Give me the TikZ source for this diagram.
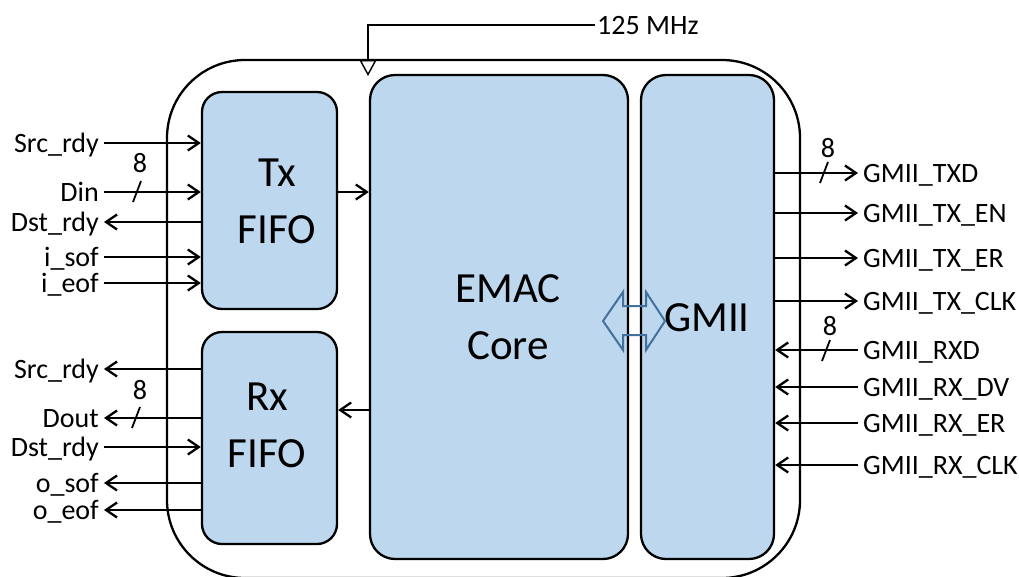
\documentclass[tikz,border=0pt]{standalone}
\usepackage{fontspec}
\setmainfont{Carlito}
\usetikzlibrary{arrows.meta}
\definecolor{boxblue}{RGB}{189,215,238}
\definecolor{arrblue}{RGB}{65,113,156}
\begin{document}
\begin{tikzpicture}[x=1pt,y=-1pt,
  blk/.style={draw=black, line width=2.3pt, fill=boxblue, inner sep=0pt},
  big/.style={font=\fontsize{43}{57}\selectfont, align=center, inner sep=0pt},
  sig/.style={font=\fontsize{28}{34}\selectfont, text height=18pt, text depth=0pt, inner xsep=5pt, inner ysep=0pt},
  wire/.style={line width=2.3pt},
  arr/.style={wire, -{Straight Barb[length=11pt,width=15pt]}},
  slash/.style={line width=1.8pt},
]
\useasboundingbox (0,0) rectangle (1019,576);

% outer block
\node[draw, line width=2.3pt, rounded corners=78pt, minimum width=633pt, minimum height=518pt, inner sep=0pt] (outer) at (483.5,319) {};

% inner blocks
\node[blk, rounded corners=20pt, minimum width=135pt, minimum height=217pt] (tx) at (269.5,200.5) {};
\node[blk, rounded corners=20pt, minimum width=135pt, minimum height=212pt] (rx) at (269.5,438) {};
\node[blk, rounded corners=25pt, minimum width=258pt, minimum height=484pt] (em) at (499,317) {};
\node[blk, rounded corners=25pt, minimum width=133pt, minimum height=484pt] (gm) at (707.5,317) {};

\node[big] (txt) at (277,201) {Tx\\FIFO};
\node[big] (rxt) at (267,425) {Rx\\FIFO};
\node[big] (emt) at (508,317.5) {EMAC\\Core};
\node[big] (gmt) at (707,318) {GMII};

% double arrow between EMAC and GMII
\draw[arrblue, line width=2pt, line join=miter] (603,321) -- (623,292) -- (623,306) -- (646,306) -- (646,292) -- (665,321) -- (646,350) -- (646,335) -- (623,335) -- (623,350) -- cycle;

% internal arrows
\draw[arr] ([yshift=8.5pt]tx.east) coordinate (a1) -- (a1 -| em.west);
\draw[arr] ([yshift=28pt]rx.east -| em.west) coordinate (a2) -- (a2 -| rx.east);

% clock
\node[sig, anchor=west, inner xsep=2pt] (clk) at (595,25) {125 MHz};
\coordinate (clkin) at (368,76);
\draw[line width=1.4pt, -{Triangle[open, length=16pt, width=17pt, line width=1.4pt]}] (clk.west) -| (clkin);

% Tx FIFO signals
\node[sig, anchor=east] (ts1) at (104,143) {Src\_rdy};
\node[sig, anchor=east] (ts2) at (104,192) {Din};
\node[sig, anchor=east] (ts3) at (104,222) {Dst\_rdy};
\node[sig, anchor=east] (ts4) at (104,257) {i\_sof};
\node[sig, anchor=east] (ts5) at (104,283) {i\_eof};
\draw[arr] (ts1.east) -- (ts1.east -| tx.west);
\draw[arr] (ts2.east) -- (ts2.east -| tx.west);
\draw[arr] (ts3.east -| tx.west) -- (ts3.east);
\draw[arr] (ts4.east) -- (ts4.east -| tx.west);
\draw[arr] (ts5.east) -- (ts5.east -| tx.west);
\node[sig, inner xsep=0pt] (tb) at (140,163) {8};
\draw[slash] (137,192) ++(-4,10) -- ++(8,-21);

% Rx FIFO signals
\node[sig, anchor=east] (rs1) at (104,369) {Src\_rdy};
\node[sig, anchor=east] (rs2) at (104,418) {Dout};
\node[sig, anchor=east] (rs3) at (104,447) {Dst\_rdy};
\node[sig, anchor=east] (rs4) at (104,483) {o\_sof};
\node[sig, anchor=east] (rs5) at (104,510) {o\_eof};
\draw[arr] (rs1.east -| rx.west) -- (rs1.east);
\draw[arr] (rs2.east -| rx.west) -- (rs2.east);
\draw[arr] (rs3.east) -- (rs3.east -| rx.west);
\draw[arr] (rs4.east -| rx.west) -- (rs4.east);
\draw[arr] (rs5.east -| rx.west) -- (rs5.east);
\node[sig, inner xsep=0pt] (rb) at (140,390) {8};
\draw[slash] (136,418) ++(-4,10) -- ++(8,-21);

% GMII signals
\node[sig, anchor=west] (g1) at (858,173) {GMII\_TXD};
\node[sig, anchor=west] (g2) at (858,213) {GMII\_TX\_EN};
\node[sig, anchor=west] (g3) at (858,258) {GMII\_TX\_ER};
\node[sig, anchor=west] (g4) at (858,301) {GMII\_TX\_CLK};
\node[sig, anchor=west] (g5) at (858,350) {GMII\_RXD};
\node[sig, anchor=west] (g6) at (858,387) {GMII\_RX\_DV};
\node[sig, anchor=west] (g7) at (858,423) {GMII\_RX\_ER};
\node[sig, anchor=west] (g8) at (858,465) {GMII\_RX\_CLK};
\draw[arr] (g1.west -| gm.east) -- (g1.west);
\draw[arr] (g2.west -| gm.east) -- (g2.west);
\draw[arr] (g3.west -| gm.east) -- (g3.west);
\draw[arr] (g4.west -| gm.east) -- (g4.west);
\draw[arr] (g5.west) -- (g5.west -| gm.east);
\draw[arr] (g6.west) -- (g6.west -| gm.east);
\draw[arr] (g7.west) -- (g7.west -| gm.east);
\draw[arr] (g8.west) -- (g8.west -| gm.east);
\node[sig, inner xsep=0pt] (gb1) at (828,148) {8};
\node[sig, inner xsep=0pt] (gb2) at (830,326) {8};
\draw[slash] (824,173) ++(-4,10) -- ++(8,-21);
\draw[slash] (826,351) ++(-4,10) -- ++(8,-21);
\end{tikzpicture}
\end{document}
